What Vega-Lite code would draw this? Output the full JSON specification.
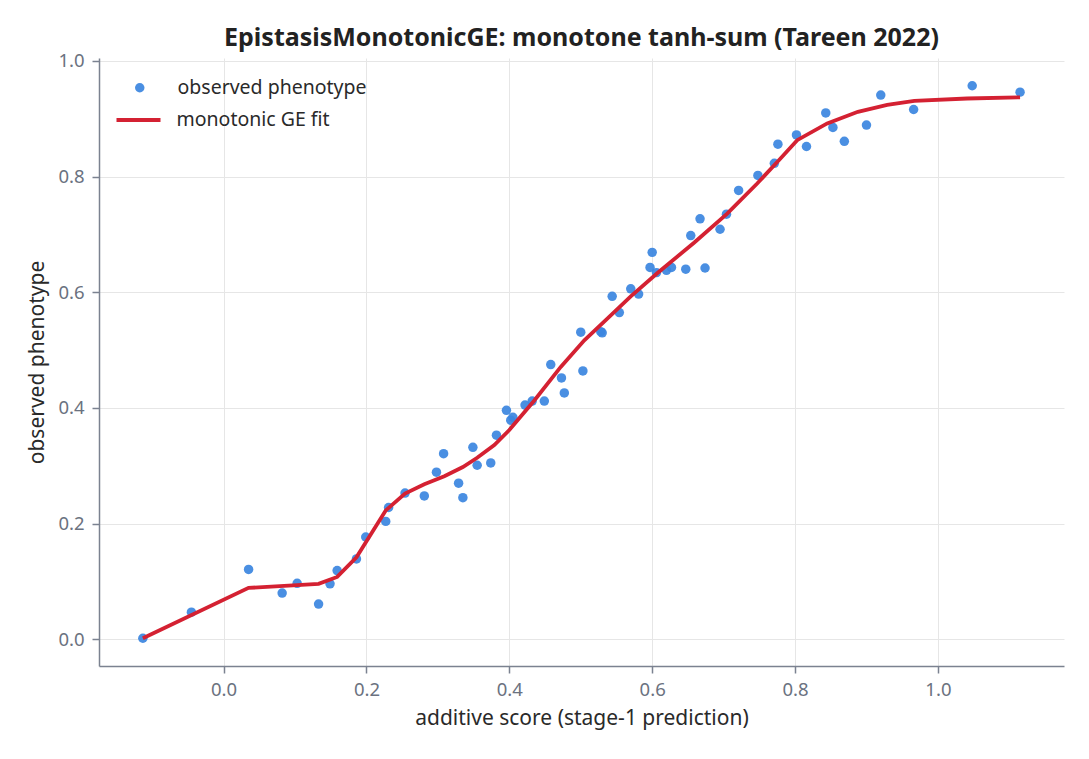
{
  "$schema": "https://vega.github.io/schema/vega-lite/v6.json",
  "width": 965,
  "height": 608,
  "autosize": {"type": "none"},
  "padding": {"left": 99, "top": 58, "right": 25, "bottom": 93},
  "background": "white",
  "config": {
    "font": "Noto Sans",
    "view": {"stroke": null},
    "axis": {
      "domainColor": "#7b8290",
      "domainWidth": 1.5,
      "tickColor": "#7b8290",
      "tickWidth": 1.5,
      "tickSize": 7,
      "gridColor": "#e6e6e6",
      "gridWidth": 1,
      "labelColor": "#6b7280",
      "labelFont": "Noto Sans",
      "titleColor": "#2a2a2a",
      "titleFontWeight": "normal",
      "titleFont": "Noto Sans"
    },
    "legend": {
      "labelFontSize": 19.5,
      "labelColor": "#2a2a2a",
      "labelFont": "Noto Sans",
      "labelLimit": 400,
      "padding": 0
    }
  },
  "title": {
    "text": "EpistasisMonotonicGE: monotone tanh-sum (Tareen 2022)",
    "fontSize": 25,
    "fontWeight": "bold",
    "color": "#222222",
    "font": "Noto Sans",
    "offset": 1,
    "anchor": "middle"
  },
  "datasets": {
    "observed": [
      {"score": -0.113, "phenotype": 0.002},
      {"score": -0.045, "phenotype": 0.047},
      {"score": 0.035, "phenotype": 0.121},
      {"score": 0.082, "phenotype": 0.080},
      {"score": 0.103, "phenotype": 0.097},
      {"score": 0.133, "phenotype": 0.061},
      {"score": 0.149, "phenotype": 0.096},
      {"score": 0.159, "phenotype": 0.119},
      {"score": 0.186, "phenotype": 0.139},
      {"score": 0.199, "phenotype": 0.177},
      {"score": 0.227, "phenotype": 0.204},
      {"score": 0.231, "phenotype": 0.228},
      {"score": 0.254, "phenotype": 0.253},
      {"score": 0.281, "phenotype": 0.248},
      {"score": 0.298, "phenotype": 0.289},
      {"score": 0.308, "phenotype": 0.321},
      {"score": 0.329, "phenotype": 0.270},
      {"score": 0.335, "phenotype": 0.245},
      {"score": 0.349, "phenotype": 0.332},
      {"score": 0.355, "phenotype": 0.301},
      {"score": 0.374, "phenotype": 0.305},
      {"score": 0.382, "phenotype": 0.353},
      {"score": 0.396, "phenotype": 0.396},
      {"score": 0.402, "phenotype": 0.379},
      {"score": 0.405, "phenotype": 0.384},
      {"score": 0.422, "phenotype": 0.405},
      {"score": 0.432, "phenotype": 0.412},
      {"score": 0.449, "phenotype": 0.412},
      {"score": 0.458, "phenotype": 0.475},
      {"score": 0.473, "phenotype": 0.452},
      {"score": 0.477, "phenotype": 0.426},
      {"score": 0.500, "phenotype": 0.531},
      {"score": 0.503, "phenotype": 0.464},
      {"score": 0.528, "phenotype": 0.532},
      {"score": 0.530, "phenotype": 0.530},
      {"score": 0.544, "phenotype": 0.593},
      {"score": 0.554, "phenotype": 0.565},
      {"score": 0.570, "phenotype": 0.606},
      {"score": 0.581, "phenotype": 0.597},
      {"score": 0.597, "phenotype": 0.643},
      {"score": 0.600, "phenotype": 0.669},
      {"score": 0.606, "phenotype": 0.634},
      {"score": 0.620, "phenotype": 0.638},
      {"score": 0.627, "phenotype": 0.643},
      {"score": 0.647, "phenotype": 0.640},
      {"score": 0.654, "phenotype": 0.698},
      {"score": 0.667, "phenotype": 0.727},
      {"score": 0.674, "phenotype": 0.642},
      {"score": 0.695, "phenotype": 0.709},
      {"score": 0.704, "phenotype": 0.735},
      {"score": 0.721, "phenotype": 0.776},
      {"score": 0.748, "phenotype": 0.802},
      {"score": 0.771, "phenotype": 0.823},
      {"score": 0.776, "phenotype": 0.856},
      {"score": 0.802, "phenotype": 0.872},
      {"score": 0.816, "phenotype": 0.852},
      {"score": 0.843, "phenotype": 0.910},
      {"score": 0.853, "phenotype": 0.885},
      {"score": 0.869, "phenotype": 0.861},
      {"score": 0.900, "phenotype": 0.889},
      {"score": 0.920, "phenotype": 0.941},
      {"score": 0.966, "phenotype": 0.916},
      {"score": 1.048, "phenotype": 0.957},
      {"score": 1.115, "phenotype": 0.946}
    ],
    "fit": [
      {"score": -0.113, "fitted": 0.002},
      {"score": 0.035, "fitted": 0.089},
      {"score": 0.133, "fitted": 0.096},
      {"score": 0.159, "fitted": 0.108},
      {"score": 0.186, "fitted": 0.142},
      {"score": 0.227, "fitted": 0.223},
      {"score": 0.254, "fitted": 0.252},
      {"score": 0.281, "fitted": 0.268},
      {"score": 0.309, "fitted": 0.282},
      {"score": 0.335, "fitted": 0.298},
      {"score": 0.355, "fitted": 0.314},
      {"score": 0.379, "fitted": 0.336},
      {"score": 0.400, "fitted": 0.362},
      {"score": 0.435, "fitted": 0.413},
      {"score": 0.472, "fitted": 0.471},
      {"score": 0.505, "fitted": 0.517},
      {"score": 0.535, "fitted": 0.552},
      {"score": 0.570, "fitted": 0.593},
      {"score": 0.607, "fitted": 0.633},
      {"score": 0.659, "fitted": 0.686},
      {"score": 0.705, "fitted": 0.736},
      {"score": 0.747, "fitted": 0.788},
      {"score": 0.778, "fitted": 0.829},
      {"score": 0.803, "fitted": 0.863},
      {"score": 0.845, "fitted": 0.892},
      {"score": 0.888, "fitted": 0.912},
      {"score": 0.929, "fitted": 0.924},
      {"score": 0.967, "fitted": 0.931},
      {"score": 1.041, "fitted": 0.935},
      {"score": 1.115, "fitted": 0.937}
    ]
  },
  "encoding": {
    "x": {
      "field": "score",
      "type": "quantitative",
      "scale": {"domain": [-0.1744, 1.1765], "nice": false, "zero": false},
      "axis": {
        "title": "additive score (stage-1 prediction)",
        "values": [0, 0.2, 0.4, 0.6, 0.8, 1.0],
        "format": ".1f",
        "labelFontSize": 18.5,
        "titleFontSize": 21,
        "labelPadding": 7,
        "titlePadding": 9
      }
    }
  },
  "layer": [
    {
      "data": {"name": "observed"},
      "mark": {"type": "point", "filled": true, "size": 90, "opacity": 0.92},
      "encoding": {
        "y": {
          "field": "phenotype",
          "type": "quantitative",
          "scale": {"domain": [-0.046, 1.005], "nice": false, "zero": false},
          "axis": {
            "title": "observed phenotype",
            "values": [0, 0.2, 0.4, 0.6, 0.8, 1.0],
            "format": ".1f",
            "labelFontSize": 18.5,
            "titleFontSize": 21,
            "labelPadding": 8,
            "titlePadding": 10
          }
        },
        "fill": {
          "datum": "observed phenotype",
          "type": "nominal",
          "scale": {"range": ["#3b86e0"]},
          "legend": {
            "title": null,
            "orient": "none",
            "legendX": 31,
            "legendY": 20,
            "symbolType": "circle",
            "symbolSize": 90,
            "symbolOpacity": 0.92,
            "labelOffset": 28
          }
        }
      }
    },
    {
      "data": {"name": "fit"},
      "mark": {"type": "line", "strokeWidth": 3.8, "interpolate": "linear"},
      "encoding": {
        "y": {"field": "fitted", "type": "quantitative"},
        "stroke": {
          "datum": "monotonic GE fit",
          "type": "nominal",
          "scale": {"range": ["#d42132"]},
          "legend": {
            "title": null,
            "orient": "none",
            "legendX": 15.5,
            "legendY": 38,
            "symbolType": "stroke",
            "symbolSize": 1936,
            "symbolStrokeWidth": 3.8,
            "labelOffset": 14
          }
        }
      }
    }
  ],
  "resolve": {"scale": {"fill": "independent", "stroke": "independent"}}
}
